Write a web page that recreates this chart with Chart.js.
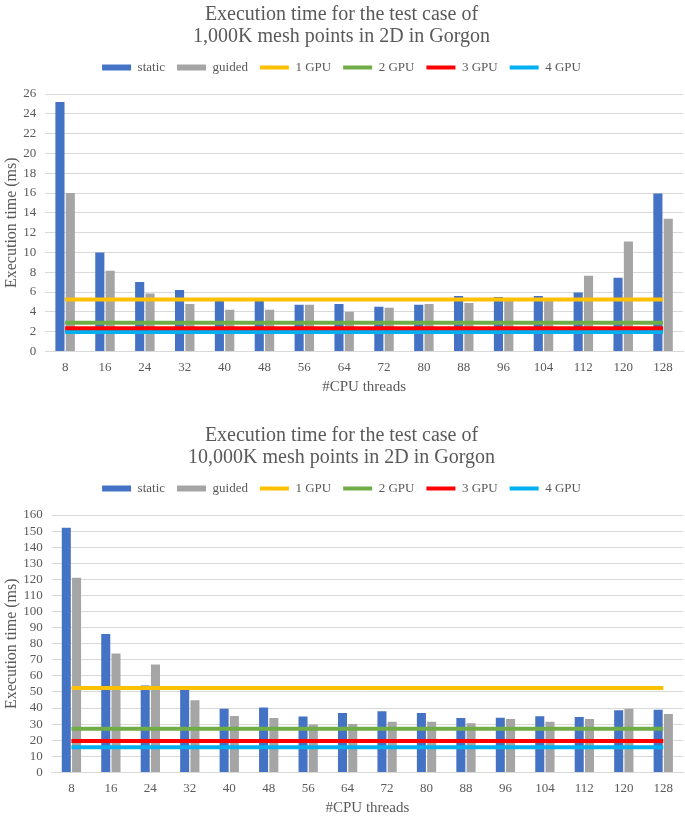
<!DOCTYPE html>
<html lang="en">
<head>
  <meta charset="UTF-8">
  <title>Execution time in Gorgon</title>
  <script src="https://cdn.jsdelivr.net/npm/chart.js"></script>
  <style>
    body { margin: 0; background: #ffffff; }
    .chart-box { position: absolute; left: 0; width: 685px; height: 396px; }
  </style>
</head>
<body>

<div class="chart-box" style="top: 0;"><canvas id="chart1k" width="685" height="396"></canvas></div>
<div class="chart-box" style="top: 421px;"><canvas id="chart10k" width="685" height="396"></canvas></div>

<script>
// data
const threads = ['8', '16', '24', '32', '40', '48', '56', '64', '72', '80', '88', '96', '104', '112', '120', '128'];
const seriesNames = ['static', 'guided', '1 GPU', '2 GPU', '3 GPU', '4 GPU'];

// 1,000K mesh points
const static1k = [25.2, 10.0, 7.0, 6.2, 5.1, 5.1, 4.7, 4.8, 4.5, 4.7, 5.6, 5.5, 5.6, 5.95, 7.45, 15.95];
const guided1k = [16.0, 8.15, 5.85, 4.8, 4.2, 4.2, 4.7, 4.0, 4.4, 4.8, 4.9, 5.2, 5.4, 7.65, 11.1, 13.4];
const gpu1k = [5.25, 2.9, 2.35, 1.95];
const ticks1k = [0, 2, 4, 6, 8, 10, 12, 14, 16, 18, 20, 22, 24, 26];

// 10,000K mesh points
const static10k = [152, 86.1, 54, 51.7, 39.6, 40.3, 34.7, 36.9, 38.0, 36.9, 33.8, 34.0, 34.9, 34.4, 38.6, 39.0];
const guided10k = [121, 73.9, 67.0, 44.8, 35.1, 33.8, 29.7, 30.1, 31.5, 31.5, 30.5, 33.2, 31.5, 33.2, 39.6, 36.3];
const gpu10k = [52.5, 27.2, 19.5, 15.6];
const ticks10k = [0, 10, 20, 30, 40, 50, 60, 70, 80, 90, 100, 110, 120, 130, 140, 150, 160];

const barColors = ['#4472C4', '#A5A5A5'];
const lineColors = ['#FFC000', '#70AD47', '#FF0000', '#00B0F0'];
const textColor = '#595959';
const serif = 'Liberation Serif';

// a little extra room under the legend, as in the original
const legendGap = {
  id: 'legendGap',
  beforeInit(chart) {
    const fit = chart.legend.fit;
    chart.legend.fit = function () {
      fit.call(chart.legend);
      this.height += 10;
    };
  }
};

function makeChart(id, titleLines, staticVals, guidedVals, gpuVals, tickVals) {
  const datasets = [
    { type: 'bar', label: seriesNames[0], data: staticVals, backgroundColor: barColors[0], pointStyle: 'rect', order: 1 },
    { type: 'bar', label: seriesNames[1], data: guidedVals, backgroundColor: barColors[1], pointStyle: 'rect', order: 1 }
  ];
  // GPU reference lines, drawn on top of the bars
  gpuVals.forEach((v, i) => {
    datasets.push({
      type: 'line',
      label: seriesNames[2 + i],
      data: threads.map(() => v),
      borderColor: lineColors[i],
      backgroundColor: lineColors[i],
      borderWidth: 4,
      pointRadius: 0,
      pointStyle: 'line',
      order: 0
    });
  });

  return new Chart(document.getElementById(id), {
    data: { labels: threads, datasets: datasets },
    plugins: [legendGap],
    options: {
      responsive: false,
      animation: false,
      categoryPercentage: 0.52,
      barPercentage: 0.88,
      layout: { padding: { left: 0, right: 2, top: 4, bottom: 0 } },
      plugins: {
        title: {
          display: true,
          text: titleLines,
          color: textColor,
          font: { family: serif, size: 20, weight: 'normal', lineHeight: 1.1 },
          padding: { top: 0, bottom: 1 }
        },
        legend: {
          labels: {
            usePointStyle: true,
            pointStyleWidth: 29,
            boxHeight: 6,
            color: textColor,
            padding: 12,
            font: { family: serif, size: 13 },
            sort: (a, b) => a.datasetIndex - b.datasetIndex
          }
        },
        tooltip: { enabled: false }
      },
      scales: {
        x: {
          grid: { display: false, drawTicks: false },
          border: { color: '#d9d9d9' },
          ticks: { color: textColor, autoSkip: false, maxRotation: 0, padding: 8, font: { family: serif, size: 13 } },
          title: {
            display: true,
            text: '#CPU threads',
            color: textColor,
            font: { family: serif, size: 15 },
            padding: { top: -5, bottom: 0 }
          }
        },
        y: {
          min: tickVals[0],
          max: tickVals[tickVals.length - 1],
          afterBuildTicks: (axis) => { axis.ticks = tickVals.map(v => ({ value: v })); },
          grid: { color: '#d9d9d9', drawTicks: false },
          border: { display: false },
          ticks: { color: textColor, autoSkip: false, padding: 9, font: { family: serif, size: 13 } },
          title: {
            display: true,
            text: 'Execution time (ms)',
            color: textColor,
            font: { family: serif, size: 16 },
            padding: { top: 2, bottom: -7 }
          }
        }
      }
    }
  });
}

makeChart('chart1k', ['Execution time for the test case of', '1,000K mesh points in 2D in Gorgon'],
  static1k, guided1k, gpu1k, ticks1k);
makeChart('chart10k', ['Execution time for the test case of', '10,000K mesh points in 2D in Gorgon'],
  static10k, guided10k, gpu10k, ticks10k);
</script>

</body>
</html>
